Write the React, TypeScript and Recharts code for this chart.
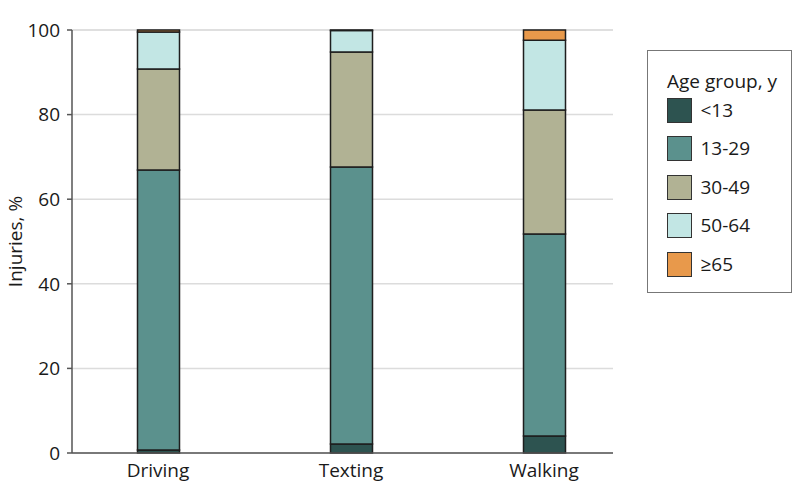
import React from 'react';
import {
  BarChart,
  Bar,
  XAxis,
  YAxis,
  CartesianGrid,
  Legend,
} from 'recharts';

const categories = ['Driving', 'Texting', 'Walking'];
const under13 = [0.7, 2.1, 4.0];
const age13to29 = [66.2, 65.5, 47.8];
const age30to49 = [23.9, 27.2, 29.3];
const age50to64 = [8.7, 5.1, 16.5];
const age65plus = [0.5, 0.1, 2.4];
const yTicks = [0, 20, 40, 60, 80, 100];

const series = [
  { key: 'u13', name: '<13', color: '#2d5350', values: under13 },
  { key: 'a13', name: '13-29', color: '#5b918d', values: age13to29 },
  { key: 'a30', name: '30-49', color: '#b1b294', values: age30to49 },
  { key: 'a50', name: '50-64', color: '#c2e6e4', values: age50to64 },
  { key: 'a65', name: '≥65', color: '#e8994b', values: age65plus },
];

const data = categories.map((c, i) => {
  const row: Record<string, string | number> = { activity: c };
  series.forEach((s) => {
    row[s.key] = s.values[i];
  });
  return row;
});

const FONT = '"Open Sans", "DejaVu Sans", sans-serif';
const TEXT = '#1a1a1a';

const LegendBox = () => (
  <div
    style={{
      position: 'relative',
      border: '1.5px solid #777',
      width: 145,
      height: 243,
      boxSizing: 'border-box',
      fontFamily: FONT,
      fontSize: 19,
      color: TEXT,
      background: '#fff',
    }}
  >
    <div style={{ position: 'absolute', left: 19, top: 18, lineHeight: '25px', whiteSpace: 'nowrap' }}>
      Age group, y
    </div>
    {series.map((s, i) => (
      <div
        key={s.key}
        style={{
          position: 'absolute',
          left: 18.5,
          top: 46.5 + i * 38.5,
          height: 25,
          display: 'flex',
          alignItems: 'center',
          whiteSpace: 'nowrap',
        }}
      >
        <div
          style={{
            width: 25,
            height: 25,
            boxSizing: 'border-box',
            background: s.color,
            border: '1px solid #333',
            marginRight: 9,
          }}
        />
        <span style={{ lineHeight: '25px' }}>{s.name}</span>
      </div>
    ))}
  </div>
);

export default function App() {
  return (
    <div style={{ position: 'absolute', left: 0, top: 0, width: 798, height: 504, background: '#fff' }}>
      <BarChart
        width={798}
        height={504}
        data={data}
        margin={{ top: 30, right: 40, bottom: 21, left: 0 }}
      >
        <CartesianGrid vertical={false} stroke="#dcdcdc" strokeWidth={1.5} />
        <XAxis
          dataKey="activity"
          scale="point"
          padding={{ left: 86, right: 69 }}
          height={30}
          tickLine={false}
          tickMargin={5}
          axisLine={{ stroke: '#555', strokeWidth: 1.5 }}
          tick={{ fill: TEXT, fontSize: 19, fontFamily: FONT }}
        />
        <YAxis
          width={72}
          domain={[0, 100]}
          ticks={yTicks}
          tickSize={5}
          tickMargin={7}
          axisLine={{ stroke: '#555', strokeWidth: 1.5 }}
          tickLine={{ stroke: '#555', strokeWidth: 1.5 }}
          tick={{ fill: TEXT, fontSize: 19, fontFamily: FONT }}
          label={{
            value: 'Injuries, %',
            angle: -90,
            position: 'center',
            dx: -21,
            style: { fill: TEXT, fontSize: 19, fontFamily: FONT },
          }}
        />
        <Legend
          layout="vertical"
          verticalAlign="top"
          align="right"
          content={() => <LegendBox />}
          wrapperStyle={{ left: 647, top: 50, width: 145 }}
        />
        {series.map((s) => (
          <Bar
            key={s.key}
            dataKey={s.key}
            name={s.name}
            stackId="age"
            fill={s.color}
            stroke="#1e1e1e"
            strokeWidth={1.5}
            barSize={42}
            isAnimationActive={false}
          />
        ))}
      </BarChart>
    </div>
  );
}
